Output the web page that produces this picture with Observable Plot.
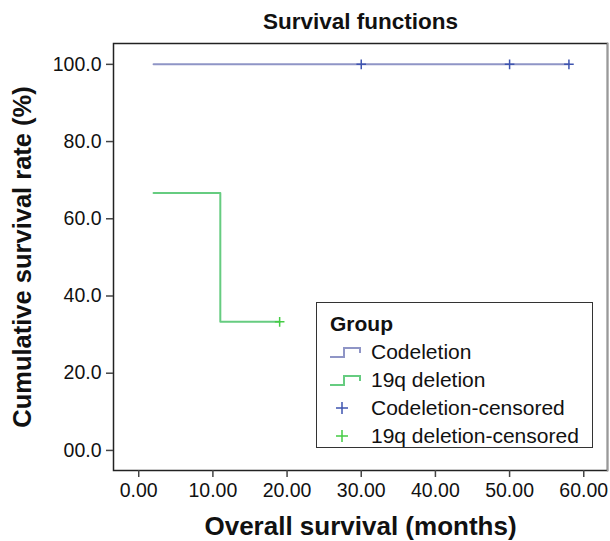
<!DOCTYPE html>
<html><head><meta charset="utf-8">
<script src="https://cdn.jsdelivr.net/npm/d3@7"></script>
<script src="https://cdn.jsdelivr.net/npm/@observablehq/plot@0.6"></script>
<style>
body{margin:0;background:#fff;font-family:"Liberation Sans",Arial,sans-serif;}
#wrap{position:relative;width:610px;height:541px;}
#legend{position:absolute;left:316px;top:302px;width:275px;height:144px;border:1.5px solid #333;background:#fff;box-sizing:content-box;color:#111;}
#legend .t{position:absolute;left:13px;top:7px;font-weight:bold;font-size:21px;line-height:28px;}
#legend .row{position:absolute;left:12px;font-size:21px;line-height:28px;height:28px;display:flex;align-items:center;white-space:nowrap;}
#legend .row svg{margin-right:8px;}
</style></head>
<body><div id="wrap"></div>
<script>
const codelTime = [2, 58];
const codelSurv = [100, 100];
const codelCensTime = [30, 50, 58];
const codelCensSurv = [100, 100, 100];
const q19Time = [2, 11, 19];
const q19Surv = [66.7, 33.3, 33.3];
const q19CensTime = [19];
const q19CensSurv = [33.3];
const xTicks = [0, 10, 20, 30, 40, 50, 60];
const yTicks = [0, 20, 40, 60, 80, 100];
const yTickLabels = ["00.0", "20.0", "40.0", "60.0", "80.0", "100.0"];
const groups = ["Codeletion", "19q deletion", "Codeletion-censored", "19q deletion-censored"];

const lineCol = {"Codeletion": "#8f95c6", "19q deletion": "#66cc80"};
const censCol = {"Codeletion": "#3f55b0", "19q deletion": "#44cc44"};

const codel = codelTime.map((t, i) => ({t, s: codelSurv[i]}));
const q19 = q19Time.map((t, i) => ({t, s: q19Surv[i]}));
const codelC = codelCensTime.map((t, i) => ({t, s: codelCensSurv[i]}));
const q19C = q19CensTime.map((t, i) => ({t, s: q19CensSurv[i]}));

const font = '"Liberation Sans", Arial, sans-serif';
const chart = Plot.plot({
  width: 610, height: 541,
  marginLeft: 113, marginRight: 3, marginTop: 43, marginBottom: 71,
  style: {fontFamily: font, fontSize: "19.5px", color: "#111"},
  x: {domain: [-3.4, 63.2], ticks: xTicks, tickFormat: d3.format(".2f"), label: null},
  y: {domain: [-5.2, 105.4], ticks: yTicks, tickFormat: d => yTickLabels[yTicks.indexOf(d)], label: null},
  marks: [
    Plot.frame({stroke: "#222", strokeWidth: 1.5}),
    Plot.frame({anchor: "right", stroke: "#999", strokeWidth: 1.5}),
    Plot.axisX({ticks: xTicks, tickFormat: d3.format(".2f"), tickSize: 7, tickPadding: 6, stroke: "#444", strokeWidth: 1.5, fill: "#111", fontSize: 19.5, label: null}),
    Plot.axisY({ticks: yTicks, tickFormat: d => yTickLabels[yTicks.indexOf(d)], tickSize: 7, tickPadding: 5, stroke: "#444", strokeWidth: 1.5, fill: "#111", fontSize: 19.5, label: null}),
    Plot.line(codel, {x: "t", y: "s", curve: "step-after", stroke: lineCol["Codeletion"], strokeWidth: 2}),
    Plot.line(q19, {x: "t", y: "s", curve: "step-after", stroke: lineCol["19q deletion"], strokeWidth: 2}),
    Plot.dot(codelC, {x: "t", y: "s", symbol: "plus", r: 3.2, stroke: censCol["Codeletion"], strokeWidth: 1.5}),
    Plot.dot(q19C, {x: "t", y: "s", symbol: "plus", r: 3.2, stroke: censCol["19q deletion"], strokeWidth: 1.5}),
    Plot.text(["Survival functions"], {frameAnchor: "top", lineAnchor: "middle", dy: -22, fontWeight: "bold", fontSize: 22.5, fill: "#111"}),
    Plot.text(["Overall survival (months)"], {frameAnchor: "bottom", lineAnchor: "middle", dy: 56, fontWeight: "bold", fontSize: 26, fill: "#111"}),
    Plot.text(["Cumulative survival rate (%)"], {frameAnchor: "left", textAnchor: "middle", lineAnchor: "middle", dx: -91, rotate: -90, fontWeight: "bold", fontSize: 25.5, fill: "#111"})
  ]
});
const wrap = document.getElementById("wrap");
wrap.appendChild(chart);

const leg = document.createElement("div");
leg.id = "legend";
let html = `<div class="t">Group</div>`;
const tops = [35, 63, 91, 119];
groups.forEach((g, i) => {
  let icon;
  if (i < 2) {
    const c = lineCol[groups[i]];
    icon = `<svg width="34" height="16"><path d="M1,13 H15 V4 H31 V9" fill="none" stroke="${c}" stroke-width="2"/></svg>`;
  } else {
    const c = censCol[groups[i - 2]];
    icon = `<svg width="34" height="16"><path d="M13,2 V14 M7,8 H19" stroke="${c}" stroke-width="1.5"/></svg>`;
  }
  html += `<div class="row" style="top:${tops[i]}px">${icon}<span>${g}</span></div>`;
});
leg.innerHTML = html;
wrap.appendChild(leg);
</script></body></html>
